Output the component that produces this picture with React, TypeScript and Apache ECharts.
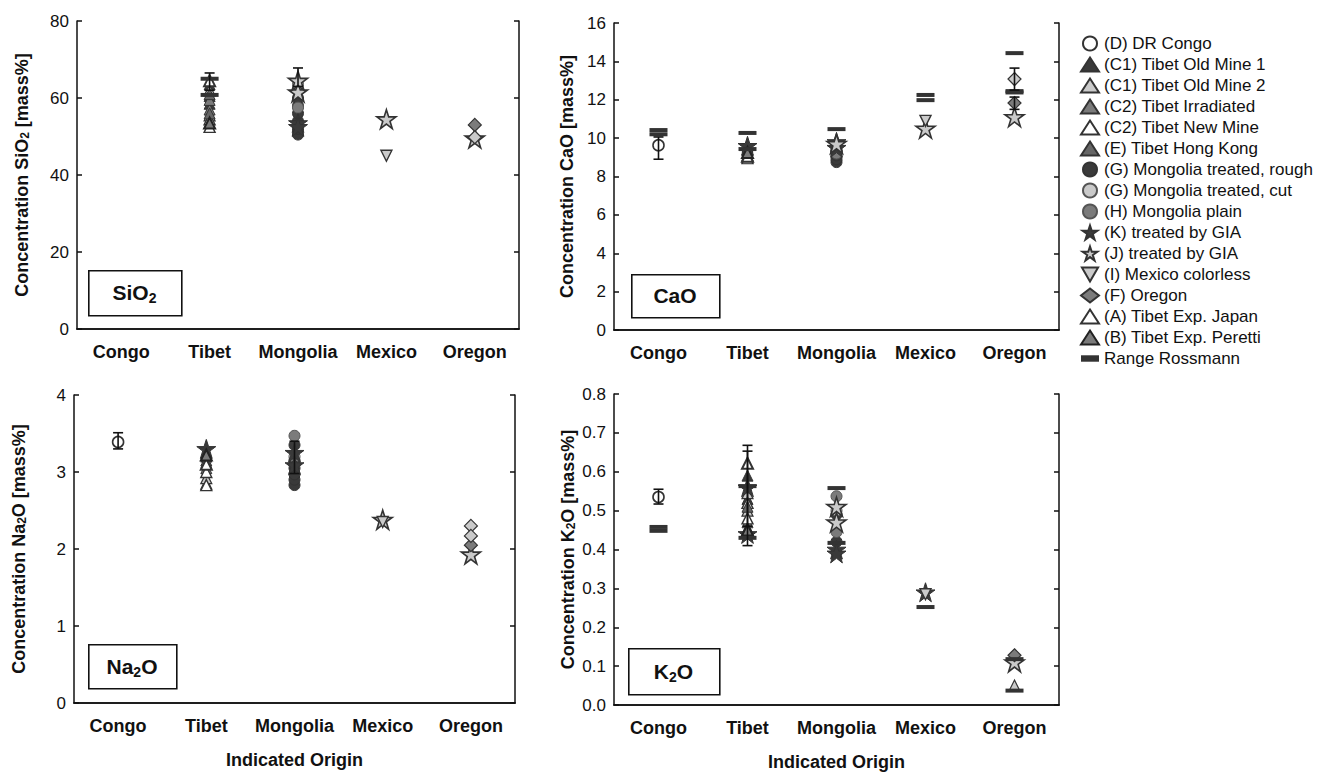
import React, { useEffect, useRef } from 'react';
import * as echarts from 'echarts';

const FONT = '"Liberation Sans", Arial, Helvetica, sans-serif';

const categories = ['Congo', 'Tibet', 'Mongolia', 'Mexico', 'Oregon'];
const panels = ['SiO2', 'CaO', 'Na2O', 'K2O'];
const yMax = [80, 16, 4, 0.8];
const yStep = [20, 2, 1, 0.1];

// [panel, category, value]
const D_Congo = [['CaO', 'Congo', 9.63], ['Na2O', 'Congo', 3.39], ['K2O', 'Congo', 0.535]];
const C1_Old1 = [['SiO2', 'Tibet', 63.5], ['SiO2', 'Tibet', 60.5], ['SiO2', 'Tibet', 58.5], ['CaO', 'Tibet', 9.55], ['CaO', 'Tibet', 9.35], ['Na2O', 'Tibet', 3.2], ['Na2O', 'Tibet', 3.12], ['K2O', 'Tibet', 0.59], ['K2O', 'Tibet', 0.53]];
const C1_Old2 = [['SiO2', 'Tibet', 62.0], ['SiO2', 'Tibet', 55.5], ['CaO', 'Tibet', 9.0], ['CaO', 'Tibet', 8.95], ['Na2O', 'Tibet', 2.85], ['Na2O', 'Tibet', 2.92], ['K2O', 'Tibet', 0.545], ['K2O', 'Tibet', 0.5], ['K2O', 'Oregon', 0.05]];
const C2_Irr = [['SiO2', 'Tibet', 57], ['SiO2', 'Tibet', 59.5], ['CaO', 'Tibet', 9.2], ['Na2O', 'Tibet', 3.05], ['K2O', 'Tibet', 0.47]];
const C2_New = [['SiO2', 'Tibet', 54.5], ['SiO2', 'Tibet', 52.5], ['CaO', 'Tibet', 9.1], ['Na2O', 'Tibet', 3.0], ['Na2O', 'Tibet', 2.83], ['K2O', 'Tibet', 0.52], ['K2O', 'Tibet', 0.48]];
const E_HK = [['SiO2', 'Tibet', 56], ['SiO2', 'Tibet', 61], ['CaO', 'Tibet', 9.4], ['Na2O', 'Tibet', 3.25], ['Na2O', 'Tibet', 3.15], ['K2O', 'Tibet', 0.455], ['K2O', 'Tibet', 0.51]];
const G_rough = [['SiO2', 'Mongolia', 50.5], ['SiO2', 'Mongolia', 52], ['SiO2', 'Mongolia', 54], ['SiO2', 'Mongolia', 56], ['SiO2', 'Mongolia', 58], ['SiO2', 'Mongolia', 60], ['SiO2', 'Mongolia', 62], ['CaO', 'Mongolia', 8.75], ['CaO', 'Mongolia', 8.9], ['CaO', 'Mongolia', 9.1], ['CaO', 'Mongolia', 9.3], ['Na2O', 'Mongolia', 2.83], ['Na2O', 'Mongolia', 2.9], ['Na2O', 'Mongolia', 2.97], ['Na2O', 'Mongolia', 3.05], ['Na2O', 'Mongolia', 3.15], ['Na2O', 'Mongolia', 3.35], ['K2O', 'Mongolia', 0.42], ['K2O', 'Mongolia', 0.49]];
const G_cut = [['SiO2', 'Mongolia', 63.5], ['CaO', 'Mongolia', 9.45], ['Na2O', 'Mongolia', 3.2], ['K2O', 'Mongolia', 0.5]];
const H_plain = [['SiO2', 'Mongolia', 57.5], ['CaO', 'Mongolia', 9.2], ['Na2O', 'Mongolia', 3.47], ['K2O', 'Mongolia', 0.537], ['K2O', 'Mongolia', 0.445]];
const K_GIA = [['SiO2', 'Mongolia', 53.5], ['SiO2', 'Mongolia', 52.5], ['CaO', 'Tibet', 9.6], ['CaO', 'Mongolia', 9.8], ['CaO', 'Mongolia', 9.5], ['Na2O', 'Tibet', 3.3], ['Na2O', 'Mongolia', 3.25], ['Na2O', 'Mongolia', 3.09], ['K2O', 'Tibet', 0.56], ['K2O', 'Tibet', 0.44], ['K2O', 'Mongolia', 0.4], ['K2O', 'Mongolia', 0.39], ['K2O', 'Mexico', 0.29]];
const J_GIA = [['SiO2', 'Mongolia', 61.5], ['SiO2', 'Mongolia', 64.5], ['SiO2', 'Mexico', 54.5], ['SiO2', 'Oregon', 49.5], ['CaO', 'Mongolia', 9.7], ['CaO', 'Mexico', 10.5], ['CaO', 'Oregon', 11.1], ['Na2O', 'Mexico', 2.38], ['Na2O', 'Oregon', 1.93], ['K2O', 'Mongolia', 0.51], ['K2O', 'Mongolia', 0.47], ['K2O', 'Oregon', 0.11]];
const I_Mex = [['SiO2', 'Mexico', 45], ['CaO', 'Mexico', 10.9], ['Na2O', 'Mexico', 2.35], ['K2O', 'Mexico', 0.285]];
const F_Oregon = [['SiO2', 'Oregon', 53], ['CaO', 'Oregon', 11.83], ['Na2O', 'Oregon', 2.05], ['K2O', 'Oregon', 0.128]];
const F_OregonLight = [['SiO2', 'Oregon', 49.8], ['CaO', 'Oregon', 13.08], ['Na2O', 'Oregon', 2.3], ['Na2O', 'Oregon', 2.17]];
const A_Japan = [['SiO2', 'Tibet', 64.5], ['CaO', 'Tibet', 9.05], ['Na2O', 'Tibet', 3.1], ['K2O', 'Tibet', 0.622]];
const B_Peretti = [['SiO2', 'Tibet', 53.5], ['CaO', 'Tibet', 9.25], ['Na2O', 'Tibet', 3.22], ['K2O', 'Tibet', 0.45]];
const RangeRossmann = [['SiO2', 'Tibet', 65], ['SiO2', 'Tibet', 60.8], ['CaO', 'Congo', 10.2], ['CaO', 'Congo', 10.42], ['CaO', 'Tibet', 10.27], ['CaO', 'Tibet', 9.43], ['CaO', 'Mongolia', 10.47], ['CaO', 'Mexico', 12.25], ['CaO', 'Mexico', 11.98], ['CaO', 'Oregon', 14.43], ['CaO', 'Oregon', 12.45], ['CaO', 'Oregon', 12.38], ['K2O', 'Congo', 0.458], ['K2O', 'Congo', 0.448], ['K2O', 'Tibet', 0.563], ['K2O', 'Tibet', 0.43], ['K2O', 'Mongolia', 0.558], ['K2O', 'Mongolia', 0.417], ['K2O', 'Mexico', 0.252], ['K2O', 'Oregon', 0.118], ['K2O', 'Oregon', 0.037]];
// [panel, category, low, high]
const ErrorBars = [['SiO2', 'Tibet', 62, 66.5], ['SiO2', 'Mongolia', 63, 67.8], ['CaO', 'Congo', 8.9, 10.06], ['CaO', 'Oregon', 12.5, 13.65], ['CaO', 'Oregon', 11.5, 12.14], ['Na2O', 'Congo', 3.3, 3.51], ['Na2O', 'Mongolia', 2.98, 3.4], ['K2O', 'Congo', 0.517, 0.555], ['K2O', 'Tibet', 0.41, 0.668], ['K2O', 'Tibet', 0.46, 0.653]];

const STAR = 'path://M50,0L62,36L100,36L69,58L81,95L50,72L19,95L31,58L0,36L38,36Z';
const INV_TRI = 'path://M0,0L12,0L6,10.4Z';
const DASH = 'path://M0,0L14,0L14,5L0,5Z';

const DARK = '#3a3a3a';
const MID = '#7b7b7b';
const GRAY = '#666666';
const LIGHT = '#cacaca';
const WHITE = '#ffffff';
const EDGE = '#333333';

const seriesDefs = [
  { name: '(D) DR Congo', data: D_Congo, symbol: 'circle', size: 11, fill: WHITE, stroke: EDGE, lw: 1.6 },
  { name: '(C1) Tibet Old Mine 1', data: C1_Old1, symbol: 'triangle', size: 11, fill: DARK, stroke: EDGE, lw: 1 },
  { name: '(C1) Tibet Old Mine 2', data: C1_Old2, symbol: 'triangle', size: 11, fill: LIGHT, stroke: EDGE, lw: 1.2 },
  { name: '(C2) Tibet Irradiated', data: C2_Irr, symbol: 'triangle', size: 11, fill: MID, stroke: EDGE, lw: 1 },
  { name: '(C2) Tibet New Mine', data: C2_New, symbol: 'triangle', size: 11, fill: WHITE, stroke: EDGE, lw: 1.4 },
  { name: '(E) Tibet Hong Kong', data: E_HK, symbol: 'triangle', size: 11, fill: GRAY, stroke: EDGE, lw: 1 },
  { name: '(G) Mongolia treated, rough', data: G_rough, symbol: 'circle', size: 11, fill: DARK, stroke: EDGE, lw: 1 },
  { name: '(G) Mongolia treated, cut', data: G_cut, symbol: 'circle', size: 11, fill: LIGHT, stroke: '#555', lw: 1 },
  { name: '(H) Mongolia plain', data: H_plain, symbol: 'circle', size: 11, fill: MID, stroke: '#555', lw: 1 },
  { name: '(K) treated by GIA', data: K_GIA, symbol: STAR, size: 19, fill: DARK, stroke: EDGE, lw: 1 },
  { name: '(J) treated by GIA', data: J_GIA, symbol: STAR, size: 19, fill: LIGHT, stroke: EDGE, lw: 1.6 },
  { name: '(I) Mexico colorless', data: I_Mex, symbol: INV_TRI, size: 11, fill: LIGHT, stroke: EDGE, lw: 1.4 },
  { name: '(F) Oregon', data: F_Oregon, symbol: 'diamond', size: 13, fill: MID, stroke: EDGE, lw: 1.2 },
  { name: '(F) Oregon', data: F_OregonLight, symbol: 'diamond', size: 13, fill: LIGHT, stroke: EDGE, lw: 1.2 },
  { name: '(A) Tibet Exp. Japan', data: A_Japan, symbol: 'triangle', size: 11, fill: WHITE, stroke: EDGE, lw: 2 },
  { name: '(B) Tibet Exp. Peretti', data: B_Peretti, symbol: 'triangle', size: 11, fill: MID, stroke: '#222', lw: 2 },
  { name: 'Range Rossmann', data: RangeRossmann, symbol: 'rect', size: [18, 4], fill: '#333', stroke: '#333', lw: 0 },
];

const legendNames = [
  '(D) DR Congo', '(C1) Tibet Old Mine 1', '(C1) Tibet Old Mine 2', '(C2) Tibet Irradiated',
  '(C2) Tibet New Mine', '(E) Tibet Hong Kong', '(G) Mongolia treated, rough', '(G) Mongolia treated, cut',
  '(H) Mongolia plain', '(K) treated by GIA', '(J) treated by GIA', '(I) Mexico colorless', '(F) Oregon',
  '(A) Tibet Exp. Japan', '(B) Tibet Exp. Peretti', 'Range Rossmann',
];

const yNames = [
  'Concentration SiO{s|2} [mass%]',
  'Concentration CaO [mass%]',
  'Concentration Na{s|2}O [mass%]',
  'Concentration K{s|2}O [mass%]',
];

const grids = [
  { left: 77, top: 21, width: 442, height: 308 },
  { left: 614, top: 23, width: 445, height: 307 },
  { left: 74, top: 395, width: 441, height: 308 },
  { left: 614, top: 394, width: 445, height: 311 },
];
const nameGaps = [46, 38, 46, 37];

const boxes = [
  { x: 88, y: 270, w: 93, h: 45, text: '{b|SiO}{s|2}' },
  { x: 631, y: 274, w: 88, h: 43, text: '{b|CaO}' },
  { x: 88, y: 644, w: 88, h: 44, text: '{b|Na}{s|2}{b|O}' },
  { x: 628, y: 648, w: 91, h: 46, text: '{b|K}{s|2}{b|O}' },
];

function buildOption() {
  const xAxis: any[] = [];
  const yAxis: any[] = [];
  panels.forEach((p, i) => {
    const bottom = i >= 2;
    xAxis.push({
      type: 'category', gridIndex: i, data: categories, position: 'bottom',
      axisLine: { lineStyle: { color: '#111', width: 1.5 } },
      axisTick: { inside: true, alignWithLabel: true, length: 5, lineStyle: { color: '#111', width: 1.5 } },
      axisLabel: { color: '#111', fontFamily: FONT, fontWeight: 'bold', fontSize: 18, margin: 14, interval: 0, hideOverlap: false },
      splitLine: { show: false },
      name: bottom ? 'Indicated Origin' : '',
      nameLocation: 'middle', nameGap: 48,
      nameTextStyle: { color: '#111', fontFamily: FONT, fontWeight: 'bold', fontSize: 18 },
    });
    xAxis.push({
      type: 'category', gridIndex: i, data: categories, position: 'top',
      axisLine: { lineStyle: { color: '#111', width: 1.5 } },
      axisTick: { inside: true, alignWithLabel: true, interval: 0, length: 5, lineStyle: { color: '#111', width: 1.5 } },
      axisLabel: { show: false, interval: 0 }, splitLine: { show: false },
    });
    yAxis.push({
      type: 'value', gridIndex: i, min: 0, max: yMax[i], interval: yStep[i], position: 'left',
      axisLine: { show: true, lineStyle: { color: '#111', width: 1.5 } },
      axisTick: { show: true, inside: true, length: 5, lineStyle: { color: '#111', width: 1.5 } },
      axisLabel: {
        color: '#111', fontFamily: FONT, fontSize: 17, margin: 8,
        formatter: (v: number) => (i === 3 ? v.toFixed(1) : String(Math.round(v))),
      },
      splitLine: { show: false },
      name: yNames[i], nameLocation: 'middle', nameGap: nameGaps[i], nameRotate: 90,
      nameTextStyle: {
        color: '#111', fontFamily: FONT, fontWeight: 'bold', fontSize: 18,
        rich: { s: { fontFamily: FONT, fontWeight: 'bold', fontSize: 12, color: '#111', verticalAlign: 'bottom' } },
      },
    });
    yAxis.push({
      type: 'value', gridIndex: i, min: 0, max: yMax[i], interval: yStep[i], position: 'right',
      axisLine: { show: true, lineStyle: { color: '#111', width: 1.5 } },
      axisTick: { show: true, inside: true, length: 5, lineStyle: { color: '#111', width: 1.5 } },
      axisLabel: { show: false }, splitLine: { show: false },
    });
  });

  const series: any[] = [];
  seriesDefs.forEach((d, si) => {
    panels.forEach((p, i) => {
      const pts = d.data.filter((r) => r[0] === p).map((r) => [categories.indexOf(r[1] as string), r[2]]);
      series.push({
        type: 'scatter', name: d.name, xAxisIndex: i * 2, yAxisIndex: i * 2,
        data: pts, symbol: d.symbol, symbolSize: d.size,
        itemStyle: { color: d.fill, borderColor: d.stroke, borderWidth: d.lw, opacity: 1 },
        z: d.name === 'Range Rossmann' ? 6 : 2 + si * 0.01,
        emphasis: { disabled: true },
      });
    });
  });
  panels.forEach((p, i) => {
    const pts = ErrorBars.filter((r) => r[0] === p).map((r) => [categories.indexOf(r[1] as string), r[2], r[3]]);
    series.push({
      type: 'custom', name: 'errorbars', xAxisIndex: i * 2, yAxisIndex: i * 2, z: 7,
      data: pts, encode: { x: 0, y: [1, 2] },
      renderItem: (params: any, api: any) => {
        const x = api.value(0);
        const lo = api.coord([x, api.value(1)]);
        const hi = api.coord([x, api.value(2)]);
        const w = 5;
        const st = { stroke: '#111', lineWidth: 1.6 };
        return {
          type: 'group',
          children: [
            { type: 'line', shape: { x1: lo[0], y1: lo[1], x2: hi[0], y2: hi[1] }, style: st },
            { type: 'line', shape: { x1: lo[0] - w, y1: lo[1], x2: lo[0] + w, y2: lo[1] }, style: st },
            { type: 'line', shape: { x1: hi[0] - w, y1: hi[1], x2: hi[0] + w, y2: hi[1] }, style: st },
          ],
        };
      },
    });
  });

  const graphic: any[] = [];
  boxes.forEach((b) => {
    graphic.push({
      type: 'rect', left: b.x, top: b.y, z: 20,
      shape: { width: b.w, height: b.h },
      style: { fill: '#fff', stroke: '#111', lineWidth: 1.6 },
    });
    graphic.push({
      type: 'text', x: b.x + b.w / 2, y: b.y + b.h / 2, z: 21,
      style: {
        text: b.text, align: 'center', verticalAlign: 'middle',
        rich: {
          b: { fontFamily: FONT, fontWeight: 'bold', fontSize: 21, fill: '#111', verticalAlign: 'bottom' },
          s: { fontFamily: FONT, fontWeight: 'bold', fontSize: 14, fill: '#111', verticalAlign: 'bottom', padding: [0, 0, -2, 0] },
        },
      },
    });
  });

  return {
    animation: false,
    backgroundColor: '#ffffff',
    grid: grids,
    xAxis, yAxis, series, graphic,
    legend: {
      orient: 'vertical', left: 1080, top: 35, itemWidth: 18, itemHeight: 14, itemGap: 4,
      selectedMode: false, padding: 0,
      textStyle: { fontFamily: FONT, fontSize: 17, color: '#111' },
      data: legendNames.map((n) => (n === 'Range Rossmann' ? { name: n, icon: DASH } : { name: n })),
    },
  };
}

export default function App() {
  const ref = useRef<HTMLDivElement>(null);
  useEffect(() => {
    document.body.style.margin = '0';
    const chart = echarts.init(ref.current!, null, { renderer: 'svg' });
    chart.setOption(buildOption() as any);
    return () => chart.dispose();
  }, []);
  return <div ref={ref} style={{ width: 1336, height: 773 }} />;
}
